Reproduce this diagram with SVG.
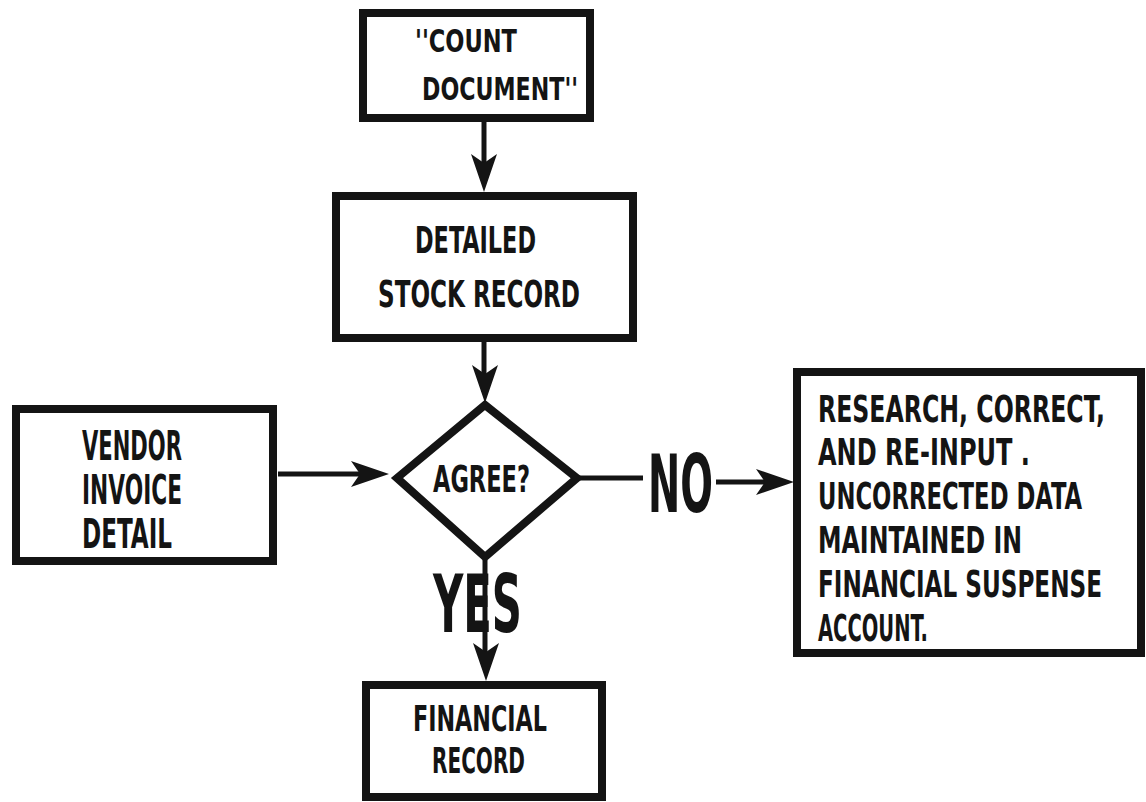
<svg xmlns="http://www.w3.org/2000/svg" xmlns:xlink="http://www.w3.org/1999/xlink" width="1146" height="802" viewBox="0 0 1146 802">
<style>
.box{fill:#fff;stroke:#141414;stroke-width:8}
.ln{fill:none;stroke:#141414;stroke-width:5}
.t{font-family:"DejaVu Sans Condensed","DejaVu Sans","Liberation Sans",sans-serif;font-weight:bold;fill:#141414}
</style>
<defs>
<path id="head" d="M0,0 L-38,-13 L-29,0 L-38,13 Z" fill="#141414"/>
</defs>
<rect width="1146" height="802" fill="#fff"/>
<g id="connectors">
<line class="ln" x1="484" y1="120" x2="484" y2="180"/>
<use xlink:href="#head" href="#head" transform="translate(484,192) rotate(90)"/>
<line class="ln" x1="484" y1="340" x2="484" y2="392"/>
<use xlink:href="#head" href="#head" transform="translate(485,403) rotate(90)"/>
<line class="ln" x1="278" y1="474" x2="376" y2="474"/>
<use xlink:href="#head" href="#head" transform="translate(389,474)"/>
<line class="ln" x1="578" y1="478" x2="643" y2="478"/>
<line class="ln" x1="716" y1="482" x2="782" y2="482"/>
<use xlink:href="#head" href="#head" transform="translate(794,482)"/>
<line class="ln" x1="485" y1="560" x2="485" y2="668"/>
<use xlink:href="#head" href="#head" transform="translate(486,681) rotate(90)"/>
</g>
<g id="count">
<rect class="box" x="363" y="13" width="227" height="105" stroke-width="7"/>
<text class="t" transform="translate(415,52) scale(1,1.45)" font-size="22" textLength="102" lengthAdjust="spacingAndGlyphs">''COUNT</text>
<text class="t" transform="translate(422,100) scale(1,1.45)" font-size="22" textLength="156" lengthAdjust="spacingAndGlyphs">DOCUMENT''</text>
</g>
<g id="detailed">
<rect class="box" x="336" y="196" width="297" height="142"/>
<text class="t" transform="translate(415,253) scale(1,1.45)" font-size="26" textLength="121" lengthAdjust="spacingAndGlyphs">DETAILED</text>
<text class="t" transform="translate(378,307) scale(1,1.45)" font-size="26" textLength="202" lengthAdjust="spacingAndGlyphs">STOCK RECORD</text>
</g>
<g id="vendor">
<rect class="box" x="16" y="409" width="257" height="152"/>
<text class="t" transform="translate(82,460) scale(1,1.45)" font-size="28" textLength="100" lengthAdjust="spacingAndGlyphs">VENDOR</text>
<text class="t" transform="translate(82,504) scale(1,1.45)" font-size="28" textLength="100" lengthAdjust="spacingAndGlyphs">INVOICE</text>
<text class="t" transform="translate(82,548) scale(1,1.45)" font-size="28" textLength="90" lengthAdjust="spacingAndGlyphs">DETAIL</text>
</g>
<g id="agree">
<polygon points="485,405 577,478 485,557 397,478" fill="#fff" stroke="#141414" stroke-width="8" stroke-linejoin="miter"/>
<text class="t" transform="translate(433,492) scale(1,1.45)" font-size="25.5" textLength="97" lengthAdjust="spacingAndGlyphs">AGREE?</text>
</g>
<g id="labels">
<text class="t" transform="translate(648,512) scale(1,1.7)" font-size="47.5" textLength="65" lengthAdjust="spacingAndGlyphs">NO</text>
<text class="t" transform="translate(433,632) scale(1,1.7)" font-size="47.5" textLength="89" lengthAdjust="spacingAndGlyphs">YES</text>
</g>
<g id="research">
<rect class="box" x="797" y="372" width="344" height="281"/>
<text class="t" transform="translate(818,422) scale(1,1.45)" font-size="25.5" textLength="287" lengthAdjust="spacingAndGlyphs">RESEARCH, CORRECT,</text>
<text class="t" transform="translate(818,465) scale(1,1.45)" font-size="25.5" textLength="212" lengthAdjust="spacingAndGlyphs">AND RE-INPUT .</text>
<text class="t" transform="translate(818,509) scale(1,1.45)" font-size="25.5" textLength="264" lengthAdjust="spacingAndGlyphs">UNCORRECTED DATA</text>
<text class="t" transform="translate(818,553) scale(1,1.45)" font-size="25.5" textLength="204" lengthAdjust="spacingAndGlyphs">MAINTAINED IN</text>
<text class="t" transform="translate(818,597) scale(1,1.45)" font-size="25.5" textLength="284" lengthAdjust="spacingAndGlyphs">FINANCIAL SUSPENSE</text>
<text class="t" transform="translate(818,641) scale(1,1.45)" font-size="25.5" textLength="110" lengthAdjust="spacingAndGlyphs">ACCOUNT.</text>
</g>
<g id="financial">
<rect class="box" x="366" y="685" width="236" height="112" stroke-width="7"/>
<text class="t" transform="translate(413,731) scale(1,1.45)" font-size="25" textLength="134" lengthAdjust="spacingAndGlyphs">FINANCIAL</text>
<text class="t" transform="translate(432,773) scale(1,1.45)" font-size="25" textLength="93" lengthAdjust="spacingAndGlyphs">RECORD</text>
</g>
</svg>
